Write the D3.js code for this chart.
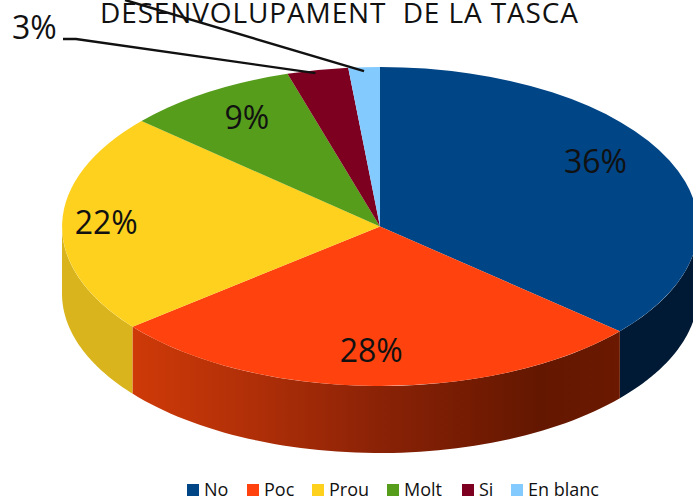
<!DOCTYPE html>
<html>
<head>
<meta charset="utf-8">
<script src="https://cdn.jsdelivr.net/npm/d3@7"></script>
<style>
  body { margin: 0; background: #fff; }
  svg { display: block; }
  text { font-family: "Open Sans", sans-serif; fill: #111; }
</style>
</head>
<body>
<svg id="chart" width="693" height="497"></svg>
<script>
const categories = ['No', 'Poc', 'Prou', 'Molt', 'Si', 'En blanc'];
const values = [36.4, 27.8, 22.3, 8.8, 3.1, 1.6];
const labels = ['36%', '28%', '22%', '9%', '3%', '3%'];
const colors = ['#004586', '#ff420e', '#fdd11e', '#579d1c', '#7e0021', '#83caff'];
const title = 'DESENVOLUPAMENT  DE LA TASCA';

const cx = 380, cy = 226.5, rx = 318, ry = 159.5, depth = 67;
const svg = d3.select('#chart');

// side wall shading, left to right across the whole pie
const shades = [
  { id: 'wall0', stops: [[0, '#001a36'], [1, '#001a36']] },
  { id: 'wall1', stops: [[0.11, '#cf3a08'], [0.3, '#b02f08'], [0.5, '#8a2206'], [0.75, '#641700'], [0.88, '#6b1900']] },
  { id: 'wall2', stops: [[0, '#d9b41c'], [1, '#d9b41c']] }
];
const defs = svg.append('defs');
shades.forEach(s => {
  const g = defs.append('linearGradient')
    .attr('id', s.id)
    .attr('gradientUnits', 'userSpaceOnUse')
    .attr('x1', cx - rx).attr('x2', cx + rx)
    .attr('y1', 0).attr('y2', 0);
  s.stops.forEach(st => g.append('stop').attr('offset', st[0]).attr('stop-color', st[1]));
});

const pie = d3.pie().sort(null)(values);
const pt = a => [cx + rx * Math.sin(a), cy - ry * Math.cos(a)];

const wall = d3.area()
  .x(a => pt(a)[0])
  .y0(a => pt(a)[1])
  .y1(a => pt(a)[1] + depth);

pie.slice(0, 3).forEach((d, i) => {
  const a0 = Math.max(d.startAngle, Math.PI / 2);
  const a1 = Math.min(d.endAngle, Math.PI * 1.5);
  svg.append('path')
    .attr('d', wall(d3.range(0, 61).map(k => a0 + (a1 - a0) * k / 60)))
    .attr('fill', `url(#wall${i})`);
});

// top face: unit circle arcs squashed into the ellipse
const arc = d3.arc().innerRadius(0).outerRadius(1);
svg.append('g')
  .attr('transform', `translate(${cx},${cy}) scale(${rx},${ry})`)
  .selectAll('path')
  .data(pie)
  .join('path')
  .attr('d', arc)
  .attr('fill', (d, i) => colors[i]);

// labels, placed along the slice middle then nudged
const labelFrac = [0.8, 0.79, 0.88, 0.82];
const labelNudge = [[-16, -9], [-4, 1], [6, 2], [8, 4]];
pie.slice(0, 4).forEach((d, i) => {
  const a = (d.startAngle + d.endAngle) / 2;
  svg.append('text')
    .attr('x', cx + rx * labelFrac[i] * Math.sin(a) + labelNudge[i][0])
    .attr('y', cy - ry * labelFrac[i] * Math.cos(a) + labelNudge[i][1])
    .attr('text-anchor', 'middle')
    .attr('dominant-baseline', 'middle')
    .attr('font-size', 32)
    .text(labels[i]);
});

// outside label for Si, and leader lines
svg.append('text').attr('x', 12).attr('y', 39).attr('font-size', 32).text(labels[4]);
const si = pt((pie[4].startAngle + pie[4].endAngle) / 2);
const blanc = pt((pie[5].startAngle + pie[5].endAngle) / 2);
svg.append('path')
  .attr('d', d3.line()([[63, 39], [76, 39], [si[0] - 2, si[1] + 3]]))
  .attr('fill', 'none').attr('stroke', '#111').attr('stroke-width', 2.4);
svg.append('path')
  .attr('d', d3.line()([[125, 0], [blanc[0], blanc[1] + 4]]))
  .attr('fill', 'none').attr('stroke', '#111').attr('stroke-width', 2.4);

svg.append('text')
  .attr('x', 100).attr('y', 23)
  .attr('font-size', 28)
  .attr('textLength', 478)
  .style('white-space', 'pre')
  .text(title);

// legend
const legendX = [187, 247, 312, 387, 462, 511];
const legend = svg.append('g').selectAll('g').data(categories).join('g')
  .attr('transform', (d, i) => `translate(${legendX[i]},484)`);
legend.append('rect').attr('width', 12).attr('height', 12).attr('fill', (d, i) => colors[i]);
legend.append('text').attr('x', 17).attr('y', 11.5).attr('font-size', 18).text(d => d);
</script>
</body>
</html>
